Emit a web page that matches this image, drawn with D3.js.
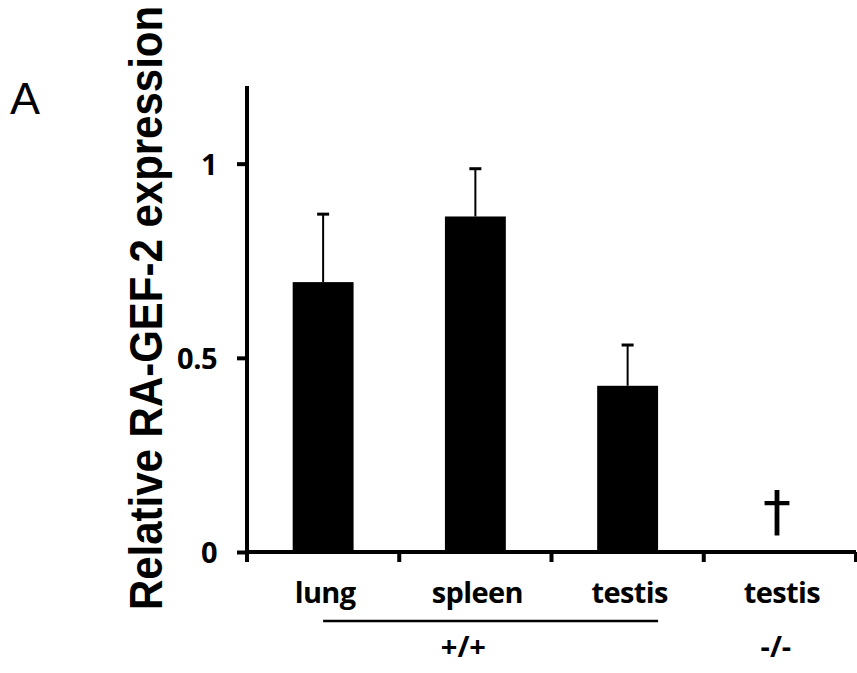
<!DOCTYPE html>
<html>
<head>
<meta charset="utf-8">
<script src="https://cdn.jsdelivr.net/npm/d3@7"></script>
<style>
  body { margin: 0; background: #fff; }
  svg { display: block; }
</style>
</head>
<body>
<svg id="chart"></svg>
<script>
// values
const categories = ["lung", "spleen", "testis", "testis -/-"]
const catLabels = ["lung", "spleen", "testis", "testis"]
const means = [0.695, 0.864, 0.428, null] // null = not detected (dagger)
const errors = [0.175, 0.123, 0.105, null]
const yTicks = [0, 0.5, 1]
const groups = [
    { label: "+/+", from: "lung", to: "testis", underline: true },
    { label: "-/-", from: "testis -/-", to: "testis -/-", underline: false }
]

const width = 857
const height = 673
const plotLeft = 247, plotRight = 856, plotTop = 86, plotBottom = 552

const svg = d3.select("#chart")
    .attr("width", width)
    .attr("height", height)

const x = d3.scaleBand()
    .domain(categories)
    .range([plotLeft, plotRight])
    .padding(0)

const y = d3.scaleLinear()
    .domain([0, 1.2])
    .range([plotBottom, plotTop])

const barW = x.bandwidth() * 0.4
const labelFont = "'Open Sans', sans-serif"
const rows = categories.map((c, i) => ({ c, v: means[i], e: errors[i] }))

// bars
svg.selectAll("rect.bar")
    .data(rows.filter(d => d.v != null))
    .enter()
    .append("rect")
    .attr("class", "bar")
    .attr("x", d => x(d.c) + x.bandwidth() / 2 - barW / 2)
    .attr("y", d => y(d.v))
    .attr("width", barW)
    .attr("height", d => y(0) - y(d.v))
    .attr("fill", "#000")

// error bars (upper only)
const errs = svg.selectAll("g.err")
    .data(rows.filter(d => d.e != null))
    .enter()
    .append("g")
    .attr("class", "err")

errs.append("line")
    .attr("x1", d => x(d.c) + x.bandwidth() / 2)
    .attr("x2", d => x(d.c) + x.bandwidth() / 2)
    .attr("y1", d => y(d.v))
    .attr("y2", d => y(d.v + d.e))
    .attr("stroke", "#000")
    .attr("stroke-width", 2)

errs.append("line")
    .attr("x1", d => x(d.c) + x.bandwidth() / 2 - 6)
    .attr("x2", d => x(d.c) + x.bandwidth() / 2 + 6)
    .attr("y1", d => y(d.v + d.e))
    .attr("y2", d => y(d.v + d.e))
    .attr("stroke", "#000")
    .attr("stroke-width", 3)

// dagger for not-detected
svg.selectAll("text.nd")
    .data(rows.filter(d => d.v == null))
    .enter()
    .append("text")
    .attr("class", "nd")
    .attr("x", d => x(d.c) + x.bandwidth() / 2 - 3)
    .attr("y", 530)
    .attr("text-anchor", "middle")
    .attr("font-family", "'DejaVu Sans', sans-serif")
    .attr("font-size", 56)
    .text("\u2020")

// y axis
const yAxis = svg.append("g")
    .attr("transform", `translate(${plotLeft},0)`)
    .call(d3.axisLeft(y).tickValues(yTicks).tickSize(10).tickSizeOuter(0).tickFormat(d3.format("")))
yAxis.select(".domain").attr("stroke", "#000").attr("stroke-width", 4)
    .attr("d", `M0,${plotTop}V${plotBottom + 10}`)
yAxis.selectAll(".tick line").attr("stroke", "#000").attr("stroke-width", 4)
yAxis.selectAll(".tick text")
    .attr("x", -30)
    .attr("dy", "0.36em")
    .attr("font-family", labelFont)
    .attr("font-weight", 700)
    .attr("font-size", 29)
    .attr("letter-spacing", -0.5)
    .attr("fill", "#000")

// x axis: ticks at category boundaries
svg.append("line")
    .attr("x1", plotLeft).attr("x2", plotRight)
    .attr("y1", plotBottom).attr("y2", plotBottom)
    .attr("stroke", "#000").attr("stroke-width", 4)
const bounds = categories.map(c => x(c)).concat([x(categories[categories.length - 1]) + x.bandwidth()])
svg.selectAll("line.xtick")
    .data(bounds)
    .enter()
    .append("line")
    .attr("class", "xtick")
    .attr("x1", d => d).attr("x2", d => d)
    .attr("y1", plotBottom).attr("y2", plotBottom + 10)
    .attr("stroke", "#000").attr("stroke-width", 4)

svg.selectAll("text.cat")
    .data(categories)
    .enter()
    .append("text")
    .attr("class", "cat")
    .attr("x", d => x(d) + x.bandwidth() / 2 + 2)
    .attr("y", 603)
    .attr("text-anchor", "middle")
    .attr("font-family", labelFont)
    .attr("font-weight", 700)
    .attr("font-size", 29)
    .attr("letter-spacing", -0.6)
    .text((d, i) => catLabels[i])

// genotype groups
svg.selectAll("line.grp")
    .data(groups.filter(g => g.underline))
    .enter()
    .append("line")
    .attr("class", "grp")
    .attr("x1", g => x(g.from) + x.bandwidth() / 2)
    .attr("x2", g => x(g.to) + x.bandwidth() / 2 + barW / 2)
    .attr("y1", 621).attr("y2", 621)
    .attr("stroke", "#000").attr("stroke-width", 2.5)

svg.selectAll("text.grp")
    .data(groups)
    .enter()
    .append("text")
    .attr("class", "grp")
    .attr("x", g => (x(g.from) + x(g.to) + x.bandwidth()) / 2 - (g.underline ? 12 : 4))
    .attr("y", 657)
    .attr("text-anchor", "middle")
    .attr("font-family", labelFont)
    .attr("font-weight", 700)
    .attr("font-size", 29)
    .text(g => g.label)

// y axis title
svg.append("text")
    .attr("transform", `translate(162,${(plotTop + plotBottom) / 2 - 11}) rotate(-90) scale(1,1.1)`)
    .attr("text-anchor", "middle")
    .attr("font-family", "'Liberation Sans', Arial, sans-serif")
    .attr("font-weight", 700)
    .attr("font-size", 42)
    .text("Relative RA-GEF-2 expression")

// panel letter
svg.append("text")
    .attr("x", 10)
    .attr("y", 114)
    .attr("font-family", "'Liberation Sans', Arial, sans-serif")
    .attr("font-size", 45)
    .text("A")
</script>
</body>
</html>
